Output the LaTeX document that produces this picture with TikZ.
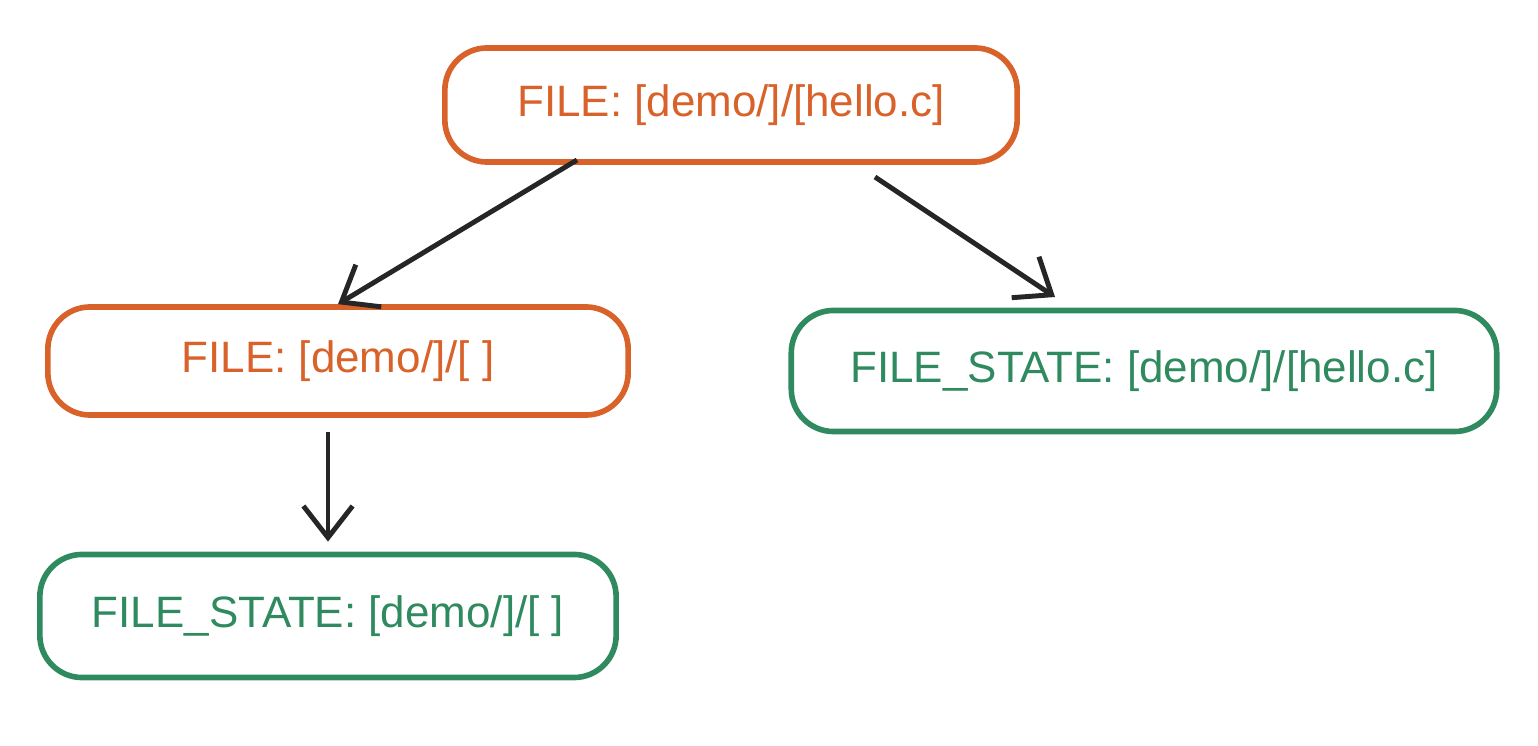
\documentclass[tikz,border=0pt]{standalone}
\usepackage{fontspec}
\setmainfont{Liberation Sans}
\usetikzlibrary{arrows.meta}
\definecolor{fileorange}{HTML}{D9622B}
\definecolor{stategreen}{HTML}{2F8A5F}
\tikzset{
  box/.style={draw, line width=1.6pt, rounded corners=12pt, font=\fontsize{12.5}{15}\selectfont},
  filebox/.style={box, draw=fileorange, text=fileorange},
  statebox/.style={box, draw=stategreen, text=stategreen},
  link/.style={line width=1.4pt, draw=black!85, -{Straight Barb[length=9pt,width=14pt]}}
}
\begin{document}
\begin{tikzpicture}[x=0.01cm, y=-0.01cm]
  \useasboundingbox (0,0) rectangle (1538,746);

  % nodes
  \node[filebox, minimum width=5.72cm, minimum height=1.14cm] (top) at (731,105) {FILE: [demo/]/[hello.c]};
  \node[filebox, minimum width=5.80cm, minimum height=1.08cm] (dir) at (338,361) {FILE: [demo/]/[ ]};
  \node[statebox, minimum width=7.05cm, minimum height=1.21cm] (hello) at (1144,371) {FILE\_STATE: [demo/]/[hello.c]};
  \node[statebox, minimum width=5.76cm, minimum height=1.23cm] (dirstate) at (328,616) {FILE\_STATE: [demo/]/[ ]};

  % connectors
  \coordinate (a1) at (577,160);
  \coordinate (a2) at (875,177);
  \coordinate (b2) at (1055,297);
  \coordinate (a3) at (328,432);
  \draw[link] (a1) -- (dir.north);
  \draw[link] (a2) -- (b2);
  \draw[link] (a3) -- ([yshift=0.1cm]dirstate.north);
\end{tikzpicture}
\end{document}
